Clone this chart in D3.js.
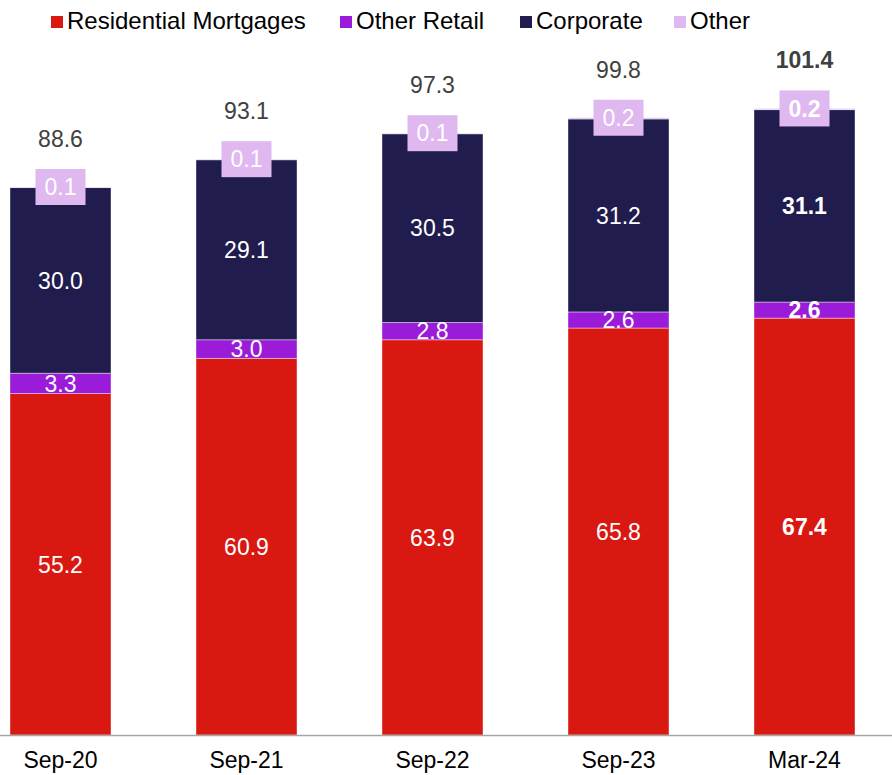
<!DOCTYPE html>
<html>
<head>
<meta charset="utf-8">
<script src="https://cdn.jsdelivr.net/npm/d3@7"></script>
<style>
  body { margin: 0; background: #fff; }
  svg { display: block; font-family: "Liberation Sans", Arial, sans-serif; }
</style>
</head>
<body>
<div id="chart"></div>
<script>
var categories = ["Sep-20", "Sep-21", "Sep-22", "Sep-23", "Mar-24"];
var residential = [55.2, 60.9, 63.9, 65.8, 67.4];
var otherRetail = [3.3, 3.0, 2.8, 2.6, 2.6];
var corporate = [30.0, 29.1, 30.5, 31.2, 31.1];
var other = [0.1, 0.1, 0.1, 0.2, 0.2];
var totals = [88.6, 93.1, 97.3, 99.8, 101.4];

var seriesNames = ["Residential Mortgages", "Other Retail", "Corporate", "Other"];
var seriesColors = ["#DA1812", "#9A1BD8", "#201C4E", "#E0B8F0"];

var width = 892, height = 775;
var baseY = 735;
var fs = 23;

var rows = categories.map(function(c, i) {
    return {cat: c, "Residential Mortgages": residential[i], "Other Retail": otherRetail[i],
        "Corporate": corporate[i], "Other": other[i], total: totals[i], idx: i};
});

var svg = d3.select("#chart").append("svg")
    .attr("width", width)
    .attr("height", height);

var x = d3.scaleBand()
    .domain(categories)
    .range([-32.5, 897.5])
    .paddingInner(0.457)
    .paddingOuter(0.2285);

var y = d3.scaleLinear()
    .domain([0, 100])
    .range([baseY, baseY - 618.5]);

var stacked = d3.stack().keys(seriesNames)(rows);

var last = categories.length - 1;
function weight(d) { return d.data.idx === last ? "bold" : "normal"; }

// bars
var groups = svg.selectAll("g.series")
    .data(stacked)
    .enter().append("g")
    .attr("class", "series")
    .attr("fill", function(d, i) { return seriesColors[i]; });

groups.selectAll("rect")
    .data(function(d) { return d; })
    .enter().append("rect")
    .attr("x", function(d) { return x(d.data.cat); })
    .attr("y", function(d) { return y(d[1]); })
    .attr("width", x.bandwidth())
    .attr("height", function(d) { return y(d[0]) - y(d[1]); })
    .attr("stroke", "#ffffff")
    .attr("stroke-opacity", 0.5)
    .attr("stroke-width", 0.8);

// axis line
svg.append("line")
    .attr("x1", 0).attr("x2", width)
    .attr("y1", baseY + 0.5).attr("y2", baseY + 0.5)
    .attr("stroke", "#A6A6A6")
    .attr("stroke-width", 1.5);

// segment labels (first three series)
stacked.slice(0, 3).forEach(function(s) {
    svg.selectAll(null)
        .data(s)
        .enter().append("text")
        .attr("x", function(d) { return x(d.data.cat) + x.bandwidth() / 2; })
        .attr("y", function(d) { return (y(d[0]) + y(d[1])) / 2; })
        .attr("dy", "0.36em")
        .attr("text-anchor", "middle")
        .attr("fill", "#ffffff")
        .style("font-size", fs + "px")
        .style("font-weight", weight)
        .text(function(d) { return (d[1] - d[0]).toFixed(1); });
});

// "Other" labels with boxes
var otherSeries = stacked[3];
svg.selectAll("rect.otherbox")
    .data(otherSeries)
    .enter().append("rect")
    .attr("class", "otherbox")
    .attr("x", function(d) { return x(d.data.cat) + x.bandwidth() / 2 - 25; })
    .attr("y", function(d) { return y(d[1]) - 18; })
    .attr("width", 50)
    .attr("height", 36)
    .attr("fill", seriesColors[3]);

svg.selectAll("text.otherlabel")
    .data(otherSeries)
    .enter().append("text")
    .attr("class", "otherlabel")
    .attr("x", function(d) { return x(d.data.cat) + x.bandwidth() / 2; })
    .attr("y", function(d) { return y(d[1]); })
    .attr("dy", "0.36em")
    .attr("text-anchor", "middle")
    .attr("fill", "#ffffff")
    .style("font-size", fs + "px")
    .style("font-weight", weight)
    .text(function(d) { return d.data.Other.toFixed(1); });

// totals
svg.selectAll("text.total")
    .data(otherSeries)
    .enter().append("text")
    .attr("class", "total")
    .attr("x", function(d) { return x(d.data.cat) + x.bandwidth() / 2; })
    .attr("y", function(d) { return y(d[1]) - 40; })
    .attr("text-anchor", "middle")
    .attr("fill", "#404040")
    .style("font-size", fs + "px")
    .style("font-weight", weight)
    .text(function(d) { return d.data.total.toFixed(1); });

// category labels
svg.selectAll("text.cat")
    .data(categories)
    .enter().append("text")
    .attr("class", "cat")
    .attr("x", function(d) { return x(d) + x.bandwidth() / 2; })
    .attr("y", 768)
    .attr("text-anchor", "middle")
    .attr("fill", "#000000")
    .style("font-size", fs + "px")
    .text(function(d) { return d; });

// legend
var legendX = [51, 340, 520, 674];
var legend = svg.selectAll("g.legend")
    .data(seriesNames)
    .enter().append("g")
    .attr("class", "legend")
    .attr("transform", function(d, i) { return "translate(" + legendX[i] + ",0)"; });

legend.append("rect")
    .attr("x", 0).attr("y", 16)
    .attr("width", 12).attr("height", 12)
    .attr("fill", function(d, i) { return seriesColors[i]; });

legend.append("text")
    .attr("x", 16)
    .attr("y", 29)
    .attr("fill", "#000000")
    .style("font-size", "24px")
    .text(function(d) { return d; });
</script>
</body>
</html>
